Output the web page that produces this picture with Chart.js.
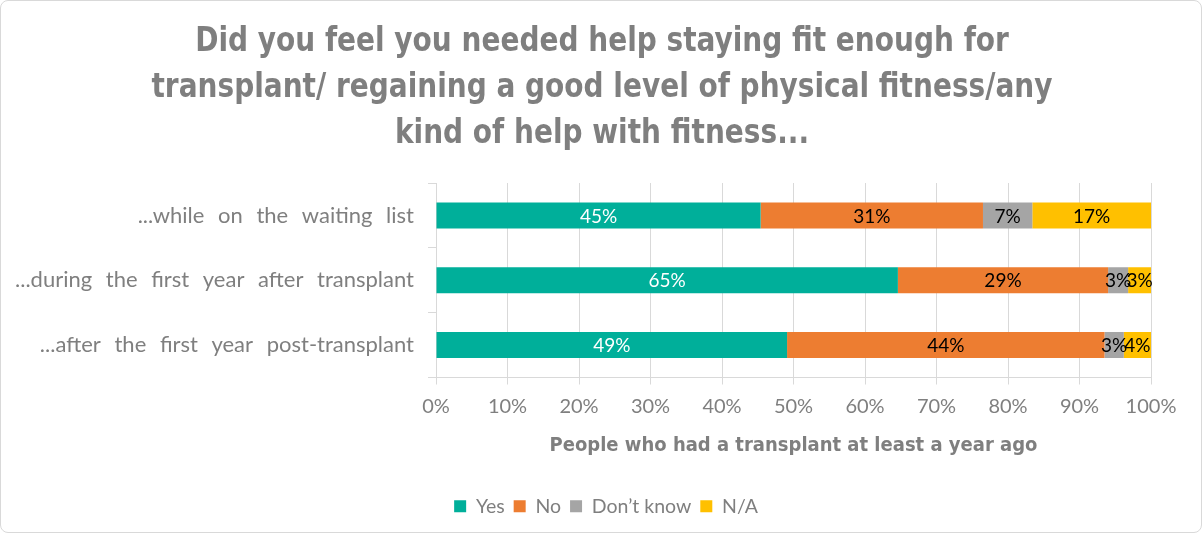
<!DOCTYPE html>
<html><head><meta charset="utf-8">
<script src="https://cdn.jsdelivr.net/npm/chart.js@4"></script>
<style>
html,body{margin:0;padding:0;background:#fff;}
#wrap{position:absolute;left:0;top:0;width:1200px;height:531px;border:1px solid #d9d9d9;border-radius:8px;overflow:hidden;background:#fff;}
canvas{display:block;}
</style></head><body>
<div id="wrap"><canvas id="c" width="1200" height="531"></canvas></div>
<script>
const categories = ['...while on the waiting list', '...during the first year after transplant', '...after the first year post-transplant'];
const seriesNames = ['Yes', 'No', 'Don\u2019t know', 'N/A'];
const yesValues = [45.4, 64.6, 49.1];
const noValues = [31.1, 29.4, 44.4];
const dontKnowValues = [6.9, 2.8, 2.7];
const naValues = [16.6, 3.2, 3.8];
const xTickValues = [0, 10, 20, 30, 40, 50, 60, 70, 80, 90, 100];
const titleLines = ['Did you feel you needed help staying fit enough for', 'transplant/ regaining a good level of physical fitness/any', 'kind of help with fitness...'];
const xAxisTitle = 'People who had a transplant at least a year ago';

const seriesColors = ['#00AF9A', '#ED7D31', '#A5A5A5', '#FFC000'];
const labelColors = ['#FFFFFF', '#000000', '#000000', '#000000'];
const allValues = [yesValues, noValues, dontKnowValues, naValues];
const condensedBold = '"DejaVu Sans Condensed", "DejaVu Sans", sans-serif';

const barLabels = {
  id: 'barLabels',
  afterDatasetsDraw(chart) {
    const ctx = chart.ctx;
    ctx.save();
    ctx.font = '19px Lato';
    ctx.textAlign = 'center';
    ctx.textBaseline = 'middle';
    chart.data.datasets.forEach((ds, i) => {
      const meta = chart.getDatasetMeta(i);
      meta.data.forEach((el, j) => {
        ctx.fillStyle = labelColors[i];
        ctx.fillText(Math.round(ds.data[j]) + '%', (el.x + el.base) / 2, el.y + 1);
      });
    });
    ctx.restore();
  }
};

const titleDraw = {
  id: 'titleDraw',
  afterDraw(chart) {
    const ctx = chart.ctx;
    ctx.save();
    ctx.font = 'bold 34px ' + condensedBold;
    ctx.fillStyle = '#7F7F7F';
    ctx.textAlign = 'center';
    ctx.textBaseline = 'alphabetic';
    titleLines.forEach((line, i) => {
      ctx.save();
      ctx.translate(601, 50 + i * 46);
      ctx.scale(0.915, 1);
      ctx.fillText(line, 0, 0);
      ctx.restore();
    });
    ctx.restore();
  }
};

const layoutTweaks = {
  id: 'layoutTweaks',
  afterLayout(chart) {
    if (chart.legend) {
      chart.legend.left += 30;
      chart.legend.right += 30;
    }
    const s = chart.scales.y;
    if (s && !s._wsPatched) {
      const orig = s.drawLabels;
      s.drawLabels = function (ca) {
        const c = this.ctx;
        const prev = c.wordSpacing;
        c.wordSpacing = '8px';
        orig.call(this, ca);
        c.wordSpacing = prev || '0px';
      };
      s._wsPatched = true;
    }
  }
};

new Chart(document.getElementById('c'), {
  type: 'bar',
  data: {
    labels: categories,
    datasets: seriesNames.map((n, i) => ({
      label: n,
      data: allValues[i],
      backgroundColor: seriesColors[i],
      borderWidth: 0,
      barPercentage: 0.8,
      categoryPercentage: 0.5
    }))
  },
  options: {
    indexAxis: 'y',
    responsive: false,
    animation: false,
    layout: { padding: { left: 0, right: 50, top: 182, bottom: 6 } },
    plugins: {
      title: { display: false },
      legend: {
        position: 'bottom',
        labels: {
          boxWidth: 12, boxHeight: 12, color: '#7F7F7F', padding: 9,
          font: { family: 'Lato', size: 19.5 }
        }
      },
      tooltip: { enabled: false }
    },
    scales: {
      x: {
        stacked: true,
        min: 0, max: 100,
        afterBuildTicks(scale) { scale.ticks = xTickValues.map(v => ({ value: v })); },
        afterFit(scale) { scale.height = 110; },
        ticks: { color: '#7F7F7F', font: { family: 'Lato', size: 20 }, padding: 10, callback: v => v + '%' },
        grid: { color: '#D9D9D9', lineWidth: 1, tickLength: 7 },
        border: { color: '#D9D9D9' },
        title: {
          display: true, text: xAxisTitle, color: '#7F7F7F',
          font: { family: condensedBold, size: 20, weight: 'bold', lineHeight: 1.2 },
          padding: { top: 8, bottom: 30 }
        }
      },
      y: {
        stacked: true,
        afterFit(scale) { scale.width = 435; },
        ticks: { color: '#7F7F7F', font: { family: 'Lato', size: 22 }, padding: 14 },
        grid: { drawOnChartArea: false, color: '#D9D9D9', tickLength: 8, offset: true },
        border: { color: '#D9D9D9' }
      }
    }
  },
  plugins: [barLabels, titleDraw, layoutTweaks]
});
</script>
</body></html>
